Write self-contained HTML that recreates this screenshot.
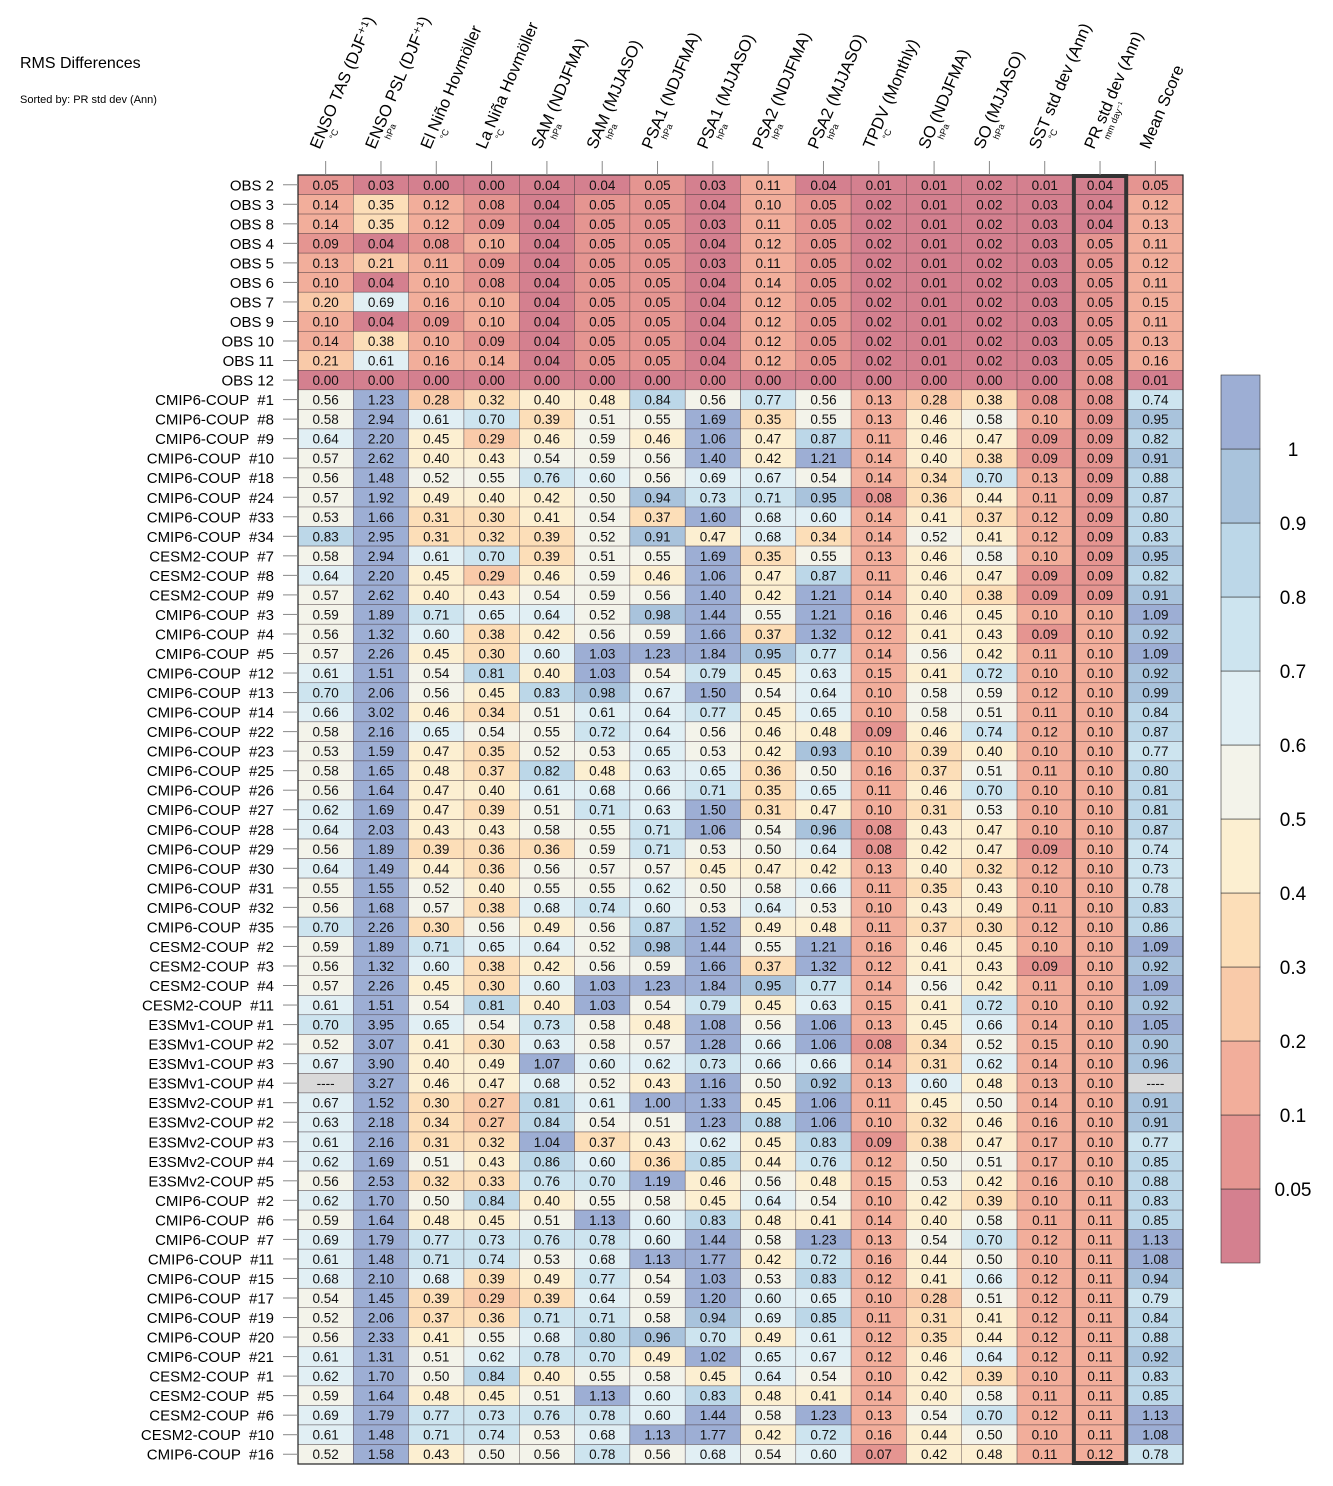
<!DOCTYPE html>
<html><head><meta charset="utf-8">
<style>
html,body{margin:0;padding:0;background:#fff;}
svg{display:block;font-family:"Liberation Sans",sans-serif;}
.rl{white-space:pre;}
</style></head>
<body>
<svg id="chart" width="1333" height="1486" viewBox="0 0 1333 1486" xmlns="http://www.w3.org/2000/svg">
<text x="20" y="68" font-size="16">RMS Differences</text>
<text x="20" y="103" font-size="11">Sorted by: PR std dev (Ann)</text>
<g id="cells"></g><g id="grid"></g><g id="labels"></g><g id="cbar"></g>
</svg>
<script>
const columns=["ENSO TAS (DJF⁺¹)","ENSO PSL (DJF⁺¹)","El Niño Hovmöller","La Niña Hovmöller","SAM (NDJFMA)","SAM (MJJASO)","PSA1 (NDJFMA)","PSA1 (MJJASO)","PSA2 (NDJFMA)","PSA2 (MJJASO)","TPDV (Monthly)","SO (NDJFMA)","SO (MJJASO)","SST std dev (Ann)","PR std dev (Ann)","Mean Score"];
const units=["°C","hPa","°C","°C","hPa","hPa","hPa","hPa","hPa","hPa","°C","hPa","hPa","°C","mm day⁻¹",""];
const rowNames=["OBS 2","OBS 3","OBS 8","OBS 4","OBS 5","OBS 6","OBS 7","OBS 9","OBS 10","OBS 11","OBS 12",
"CMIP6-COUP  #1","CMIP6-COUP  #8","CMIP6-COUP  #9","CMIP6-COUP  #10","CMIP6-COUP  #18","CMIP6-COUP  #24","CMIP6-COUP  #33","CMIP6-COUP  #34",
"CESM2-COUP  #7","CESM2-COUP  #8","CESM2-COUP  #9","CMIP6-COUP  #3","CMIP6-COUP  #4","CMIP6-COUP  #5","CMIP6-COUP  #12","CMIP6-COUP  #13","CMIP6-COUP  #14","CMIP6-COUP  #22","CMIP6-COUP  #23","CMIP6-COUP  #25","CMIP6-COUP  #26","CMIP6-COUP  #27","CMIP6-COUP  #28","CMIP6-COUP  #29","CMIP6-COUP  #30","CMIP6-COUP  #31","CMIP6-COUP  #32","CMIP6-COUP  #35",
"CESM2-COUP  #2","CESM2-COUP  #3","CESM2-COUP  #4","CESM2-COUP  #11","E3SMv1-COUP #1","E3SMv1-COUP #2","E3SMv1-COUP #3","E3SMv1-COUP #4","E3SMv2-COUP #1","E3SMv2-COUP #2","E3SMv2-COUP #3","E3SMv2-COUP #4","E3SMv2-COUP #5",
"CMIP6-COUP  #2","CMIP6-COUP  #6","CMIP6-COUP  #7","CMIP6-COUP  #11","CMIP6-COUP  #15","CMIP6-COUP  #17","CMIP6-COUP  #19","CMIP6-COUP  #20","CMIP6-COUP  #21","CESM2-COUP  #1","CESM2-COUP  #5","CESM2-COUP  #6","CESM2-COUP  #10","CMIP6-COUP  #16"];
const values=[
[0.05,0.03,0.00,0.00,0.04,0.04,0.05,0.03,0.11,0.04,0.01,0.01,0.02,0.01,0.04,0.05],
[0.14,0.35,0.12,0.08,0.04,0.05,0.05,0.04,0.10,0.05,0.02,0.01,0.02,0.03,0.04,0.12],
[0.14,0.35,0.12,0.09,0.04,0.05,0.05,0.03,0.11,0.05,0.02,0.01,0.02,0.03,0.04,0.13],
[0.09,0.04,0.08,0.10,0.04,0.05,0.05,0.04,0.12,0.05,0.02,0.01,0.02,0.03,0.05,0.11],
[0.13,0.21,0.11,0.09,0.04,0.05,0.05,0.03,0.11,0.05,0.02,0.01,0.02,0.03,0.05,0.12],
[0.10,0.04,0.10,0.08,0.04,0.05,0.05,0.04,0.14,0.05,0.02,0.01,0.02,0.03,0.05,0.11],
[0.20,0.69,0.16,0.10,0.04,0.05,0.05,0.04,0.12,0.05,0.02,0.01,0.02,0.03,0.05,0.15],
[0.10,0.04,0.09,0.10,0.04,0.05,0.05,0.04,0.12,0.05,0.02,0.01,0.02,0.03,0.05,0.11],
[0.14,0.38,0.10,0.09,0.04,0.05,0.05,0.04,0.12,0.05,0.02,0.01,0.02,0.03,0.05,0.13],
[0.21,0.61,0.16,0.14,0.04,0.05,0.05,0.04,0.12,0.05,0.02,0.01,0.02,0.03,0.05,0.16],
[0.00,0.00,0.00,0.00,0.00,0.00,0.00,0.00,0.00,0.00,0.00,0.00,0.00,0.00,0.08,0.01],
[0.56,1.23,0.28,0.32,0.40,0.48,0.84,0.56,0.77,0.56,0.13,0.28,0.38,0.08,0.08,0.74],
[0.58,2.94,0.61,0.70,0.39,0.51,0.55,1.69,0.35,0.55,0.13,0.46,0.58,0.10,0.09,0.95],
[0.64,2.20,0.45,0.29,0.46,0.59,0.46,1.06,0.47,0.87,0.11,0.46,0.47,0.09,0.09,0.82],
[0.57,2.62,0.40,0.43,0.54,0.59,0.56,1.40,0.42,1.21,0.14,0.40,0.38,0.09,0.09,0.91],
[0.56,1.48,0.52,0.55,0.76,0.60,0.56,0.69,0.67,0.54,0.14,0.34,0.70,0.13,0.09,0.88],
[0.57,1.92,0.49,0.40,0.42,0.50,0.94,0.73,0.71,0.95,0.08,0.36,0.44,0.11,0.09,0.87],
[0.53,1.66,0.31,0.30,0.41,0.54,0.37,1.60,0.68,0.60,0.14,0.41,0.37,0.12,0.09,0.80],
[0.83,2.95,0.31,0.32,0.39,0.52,0.91,0.47,0.68,0.34,0.14,0.52,0.41,0.12,0.09,0.83],
[0.58,2.94,0.61,0.70,0.39,0.51,0.55,1.69,0.35,0.55,0.13,0.46,0.58,0.10,0.09,0.95],
[0.64,2.20,0.45,0.29,0.46,0.59,0.46,1.06,0.47,0.87,0.11,0.46,0.47,0.09,0.09,0.82],
[0.57,2.62,0.40,0.43,0.54,0.59,0.56,1.40,0.42,1.21,0.14,0.40,0.38,0.09,0.09,0.91],
[0.59,1.89,0.71,0.65,0.64,0.52,0.98,1.44,0.55,1.21,0.16,0.46,0.45,0.10,0.10,1.09],
[0.56,1.32,0.60,0.38,0.42,0.56,0.59,1.66,0.37,1.32,0.12,0.41,0.43,0.09,0.10,0.92],
[0.57,2.26,0.45,0.30,0.60,1.03,1.23,1.84,0.95,0.77,0.14,0.56,0.42,0.11,0.10,1.09],
[0.61,1.51,0.54,0.81,0.40,1.03,0.54,0.79,0.45,0.63,0.15,0.41,0.72,0.10,0.10,0.92],
[0.70,2.06,0.56,0.45,0.83,0.98,0.67,1.50,0.54,0.64,0.10,0.58,0.59,0.12,0.10,0.99],
[0.66,3.02,0.46,0.34,0.51,0.61,0.64,0.77,0.45,0.65,0.10,0.58,0.51,0.11,0.10,0.84],
[0.58,2.16,0.65,0.54,0.55,0.72,0.64,0.56,0.46,0.48,0.09,0.46,0.74,0.12,0.10,0.87],
[0.53,1.59,0.47,0.35,0.52,0.53,0.65,0.53,0.42,0.93,0.10,0.39,0.40,0.10,0.10,0.77],
[0.58,1.65,0.48,0.37,0.82,0.48,0.63,0.65,0.36,0.50,0.16,0.37,0.51,0.11,0.10,0.80],
[0.56,1.64,0.47,0.40,0.61,0.68,0.66,0.71,0.35,0.65,0.11,0.46,0.70,0.10,0.10,0.81],
[0.62,1.69,0.47,0.39,0.51,0.71,0.63,1.50,0.31,0.47,0.10,0.31,0.53,0.10,0.10,0.81],
[0.64,2.03,0.43,0.43,0.58,0.55,0.71,1.06,0.54,0.96,0.08,0.43,0.47,0.10,0.10,0.87],
[0.56,1.89,0.39,0.36,0.36,0.59,0.71,0.53,0.50,0.64,0.08,0.42,0.47,0.09,0.10,0.74],
[0.64,1.49,0.44,0.36,0.56,0.57,0.57,0.45,0.47,0.42,0.13,0.40,0.32,0.12,0.10,0.73],
[0.55,1.55,0.52,0.40,0.55,0.55,0.62,0.50,0.58,0.66,0.11,0.35,0.43,0.10,0.10,0.78],
[0.56,1.68,0.57,0.38,0.68,0.74,0.60,0.53,0.64,0.53,0.10,0.43,0.49,0.11,0.10,0.83],
[0.70,2.26,0.30,0.56,0.49,0.56,0.87,1.52,0.49,0.48,0.11,0.37,0.30,0.12,0.10,0.86],
[0.59,1.89,0.71,0.65,0.64,0.52,0.98,1.44,0.55,1.21,0.16,0.46,0.45,0.10,0.10,1.09],
[0.56,1.32,0.60,0.38,0.42,0.56,0.59,1.66,0.37,1.32,0.12,0.41,0.43,0.09,0.10,0.92],
[0.57,2.26,0.45,0.30,0.60,1.03,1.23,1.84,0.95,0.77,0.14,0.56,0.42,0.11,0.10,1.09],
[0.61,1.51,0.54,0.81,0.40,1.03,0.54,0.79,0.45,0.63,0.15,0.41,0.72,0.10,0.10,0.92],
[0.70,3.95,0.65,0.54,0.73,0.58,0.48,1.08,0.56,1.06,0.13,0.45,0.66,0.14,0.10,1.05],
[0.52,3.07,0.41,0.30,0.63,0.58,0.57,1.28,0.66,1.06,0.08,0.34,0.52,0.15,0.10,0.90],
[0.67,3.90,0.40,0.49,1.07,0.60,0.62,0.73,0.66,0.66,0.14,0.31,0.62,0.14,0.10,0.96],
[null,3.27,0.46,0.47,0.68,0.52,0.43,1.16,0.50,0.92,0.13,0.60,0.48,0.13,0.10,null],
[0.67,1.52,0.30,0.27,0.81,0.61,1.00,1.33,0.45,1.06,0.11,0.45,0.50,0.14,0.10,0.91],
[0.63,2.18,0.34,0.27,0.84,0.54,0.51,1.23,0.88,1.06,0.10,0.32,0.46,0.16,0.10,0.91],
[0.61,2.16,0.31,0.32,1.04,0.37,0.43,0.62,0.45,0.83,0.09,0.38,0.47,0.17,0.10,0.77],
[0.62,1.69,0.51,0.43,0.86,0.60,0.36,0.85,0.44,0.76,0.12,0.50,0.51,0.17,0.10,0.85],
[0.56,2.53,0.32,0.33,0.76,0.70,1.19,0.46,0.56,0.48,0.15,0.53,0.42,0.16,0.10,0.88],
[0.62,1.70,0.50,0.84,0.40,0.55,0.58,0.45,0.64,0.54,0.10,0.42,0.39,0.10,0.11,0.83],
[0.59,1.64,0.48,0.45,0.51,1.13,0.60,0.83,0.48,0.41,0.14,0.40,0.58,0.11,0.11,0.85],
[0.69,1.79,0.77,0.73,0.76,0.78,0.60,1.44,0.58,1.23,0.13,0.54,0.70,0.12,0.11,1.13],
[0.61,1.48,0.71,0.74,0.53,0.68,1.13,1.77,0.42,0.72,0.16,0.44,0.50,0.10,0.11,1.08],
[0.68,2.10,0.68,0.39,0.49,0.77,0.54,1.03,0.53,0.83,0.12,0.41,0.66,0.12,0.11,0.94],
[0.54,1.45,0.39,0.29,0.39,0.64,0.59,1.20,0.60,0.65,0.10,0.28,0.51,0.12,0.11,0.79],
[0.52,2.06,0.37,0.36,0.71,0.71,0.58,0.94,0.69,0.85,0.11,0.31,0.41,0.12,0.11,0.84],
[0.56,2.33,0.41,0.55,0.68,0.80,0.96,0.70,0.49,0.61,0.12,0.35,0.44,0.12,0.11,0.88],
[0.61,1.31,0.51,0.62,0.78,0.70,0.49,1.02,0.65,0.67,0.12,0.46,0.64,0.12,0.11,0.92],
[0.62,1.70,0.50,0.84,0.40,0.55,0.58,0.45,0.64,0.54,0.10,0.42,0.39,0.10,0.11,0.83],
[0.59,1.64,0.48,0.45,0.51,1.13,0.60,0.83,0.48,0.41,0.14,0.40,0.58,0.11,0.11,0.85],
[0.69,1.79,0.77,0.73,0.76,0.78,0.60,1.44,0.58,1.23,0.13,0.54,0.70,0.12,0.11,1.13],
[0.61,1.48,0.71,0.74,0.53,0.68,1.13,1.77,0.42,0.72,0.16,0.44,0.50,0.10,0.11,1.08],
[0.52,1.58,0.43,0.50,0.56,0.78,0.56,0.68,0.54,0.60,0.07,0.42,0.48,0.11,0.12,0.78]];
const levels=[0.05,0.1,0.2,0.3,0.4,0.5,0.6,0.7,0.8,0.9,1];
const levelLabels=["0.05","0.1","0.2","0.3","0.4","0.5","0.6","0.7","0.8","0.9","1"];
const palette=["#d4808f","#e59591","#f2ae9b","#f9caa9","#fcdeb8","#fcefd1","#f3f3ea","#e1eff4","#cde4ef","#bcd7e8","#a9c3dc","#9daed4"];

const NS="http://www.w3.org/2000/svg";
const X0=298,X1=1183,Y0=175,Y1=1464;
const CW=(X1-X0)/columns.length, RH=(Y1-Y0)/rowNames.length;
const xPos=c=>X0+c*CW, yPos=r=>Y0+r*RH;
function colorFor(v){if(v===null)return "#d9d9d9";let b=0;for(let i=0;i<levels.length;i++){if(v>=levels[i]-1e-9)b=i+1;}return palette[b];}
function mk(tag,attrs,parent){const e=document.createElementNS(NS,tag);for(const k in attrs)e.setAttribute(k,attrs[k]);parent.appendChild(e);return e;}
const gC=document.getElementById('cells'),gG=document.getElementById('grid'),gL=document.getElementById('labels'),gB=document.getElementById('cbar');

values.forEach((row,r)=>{
  row.forEach((v,c)=>{
    const rect=mk('rect',{x:xPos(c),y:yPos(r),width:CW,height:RH,fill:colorFor(v),stroke:'#4a3a40','stroke-width':0.5,'stroke-opacity':0.8},gC);
    
    
    const t=mk('text',{x:xPos(c)+CW/2,y:yPos(r)+RH/2+5,'font-size':13.5,'text-anchor':'middle',fill:'#111'},gC);
    t.textContent=v===null?'----':v.toFixed(2);
    
    
  });
  const lab=mk('text',{x:274,y:yPos(r)+RH/2+5.5,'font-size':15,'text-anchor':'end','class':'rl'},gL);
  lab.textContent=rowNames[r];
  
  
  const tk=mk('line',{x1:283,x2:X0,y1:yPos(r)+RH/2,y2:yPos(r)+RH/2,stroke:'#888','stroke-width':1},gL);
  
  
});
columns.forEach((name,c)=>{
  const cx=xPos(c)+CW/2;
  const tk=mk('line',{x1:cx,x2:cx,y1:161,y2:Y0,stroke:'#888','stroke-width':1},gL);
  
  
  const g=mk('g',{transform:`translate(${cx-6},150) rotate(-67)`},gL);
  
  
  const t=mk('text',{x:0,y:0,'font-size':16.5},g);
  t.textContent=name;
  if(units[c]){const u=mk('text',{x:15,y:10,'font-size':9},g);u.textContent=units[c];}
});
const box=mk('rect',{x:X0,y:Y0,width:X1-X0,height:Y1-Y0,fill:'none',stroke:'#222','stroke-width':1.2},gG);


const hi=mk('rect',{x:xPos(14)+1.5,y:Y0+1,width:CW-3,height:Y1-Y0-2,fill:'none',stroke:'#333','stroke-width':4},gG);



const CB0=375,CB1=1263,CBX=1221,CBW=39,BH=(CB1-CB0)/palette.length;
palette.forEach((col,i)=>{
  const r=mk('rect',{x:CBX,y:CB1-(i+1)*BH,width:CBW,height:BH,fill:col,stroke:'#333','stroke-width':0.6},gB);
  
  
});
levelLabels.forEach((lb,i)=>{
  const t=mk('text',{x:1293,y:CB1-(i+1)*BH+7,'font-size':19,'text-anchor':'middle'},gB);
  t.textContent=lb;
  
  
});
</script>
</body></html>
